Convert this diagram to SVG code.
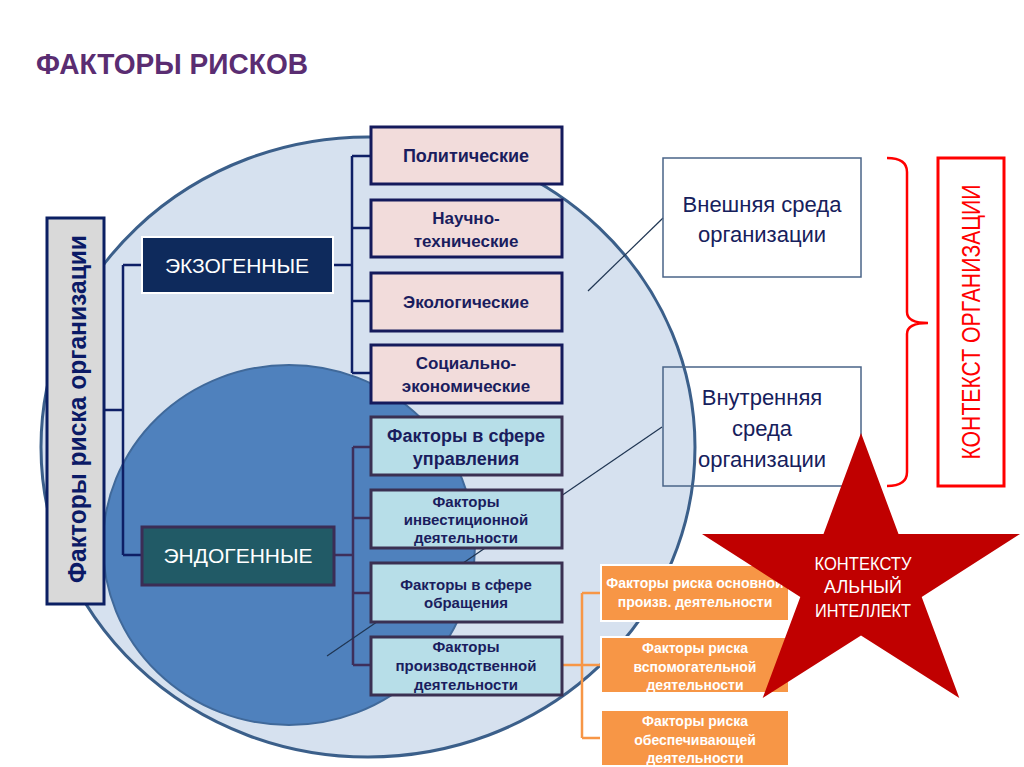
<svg xmlns="http://www.w3.org/2000/svg" width="1024" height="767" viewBox="0 0 1024 767">
<style>
text{font-family:"Liberation Sans",Arial,sans-serif}
.pink{fill:#f2dcdb;stroke:#141a5c;stroke-width:3}
.lb{fill:#b7dee8;stroke:#3a3052;stroke-width:3}
.or{fill:#f79646;stroke:#ffffff;stroke-width:2}
.wb{fill:none;stroke:#4a6488;stroke-width:1.5}
.tn{fill:#1a1d5e;font-weight:bold;text-anchor:middle}
.tw{fill:#ffffff;font-weight:bold;text-anchor:middle;font-size:14px}
.ten{fill:#16205c;text-anchor:middle;font-size:22px}
.cn{fill:none;stroke:#0e1f66;stroke-width:2.5}
.ce{fill:none;stroke:#3d2f5b;stroke-width:2.5}
.co{fill:none;stroke:#f79646;stroke-width:2.5}
.thin{stroke:#1f3552;stroke-width:1.2}
.st{fill:#ffffff;text-anchor:middle;font-size:18px}
</style>
<rect width="1024" height="767" fill="#ffffff"/>
<text x="36" y="74" font-size="29" font-weight="bold" fill="#5a2d72" textLength="272" lengthAdjust="spacingAndGlyphs">ФАКТОРЫ РИСКОВ</text>

<g id="circles">
<ellipse cx="368" cy="447" rx="327" ry="310" fill="#d6e1ef" stroke="#3b5f8a" stroke-width="3"/>
<ellipse cx="289" cy="545" rx="186" ry="180" fill="#4f81bd" stroke="#40699a" stroke-width="2"/>
</g>

<g id="connectors">
<path class="cn" d="M104 410 H123 M123 265 V555 M123 265 H142 M123 555 H142"/>
<path class="cn" d="M333 265 H352 M352 156 V373 M352 156 H371 M352 228 H371 M352 301 H371 M352 373 H371"/>
<path class="ce" d="M334 555 H353 M353 447 V665 M353 447 H371 M353 518 H371 M353 593 H371 M353 665 H371"/>
<path class="co" d="M562 665 H602 M582 593 V738 M582 593 H602 M582 738 H602"/>
<line class="thin" x1="588" y1="291" x2="663" y2="218"/>
<line class="thin" x1="327" y1="656" x2="662" y2="427"/>
</g>

<g id="root">
<rect x="47" y="218" width="57" height="386" fill="#d9d9d9" stroke="#0b1f63" stroke-width="3"/>
<text transform="translate(86 409) rotate(-90)" font-size="25" font-weight="bold" fill="#0b1a66" text-anchor="middle" textLength="348" lengthAdjust="spacingAndGlyphs">Факторы риска организации</text>
</g>

<g id="exo">
<rect x="142" y="237" width="191" height="56" fill="#0e2a5c" stroke="#ffffff" stroke-width="2"/>
<text x="237" y="273" font-size="21" fill="#ffffff" text-anchor="middle">ЭКЗОГЕННЫЕ</text>
</g>
<g id="endo">
<rect x="142" y="527" width="192" height="58" fill="#215a66" stroke="#3b2d55" stroke-width="3"/>
<text x="238" y="563" font-size="21" fill="#ffffff" text-anchor="middle">ЭНДОГЕННЫЕ</text>
</g>

<g id="pol"><rect class="pink" x="371" y="127" width="191" height="57"/><text class="tn" x="466" y="162" font-size="18">Политические</text></g>
<g id="nauch"><rect class="pink" x="371" y="200" width="191" height="57"/><text class="tn" x="466" y="224" font-size="17">Научно-</text><text class="tn" x="466" y="247" font-size="17">технические</text></g>
<g id="ekol"><rect class="pink" x="371" y="273" width="191" height="58"/><text class="tn" x="466" y="308" font-size="17">Экологические</text></g>
<g id="soc"><rect class="pink" x="371" y="345" width="191" height="58"/><text class="tn" x="466" y="369" font-size="17">Социально-</text><text class="tn" x="466" y="392" font-size="17">экономические</text></g>

<g id="upr"><rect class="lb" x="371" y="417" width="191" height="58"/><text class="tn" x="466" y="442" font-size="18">Факторы в сфере</text><text class="tn" x="466" y="465" font-size="18">управления</text></g>
<g id="invest"><rect class="lb" x="371" y="490" width="191" height="58"/><text class="tn" x="466" y="507" font-size="15">Факторы</text><text class="tn" x="466" y="525" font-size="15">инвестиционной</text><text class="tn" x="466" y="543" font-size="15">деятельности</text></g>
<g id="obr"><rect class="lb" x="371" y="563" width="191" height="59"/><text class="tn" x="466" y="590" font-size="15">Факторы в сфере</text><text class="tn" x="466" y="608" font-size="15">обращения</text></g>
<g id="proizv"><rect class="lb" x="371" y="637" width="191" height="58"/><text class="tn" x="466" y="652" font-size="15">Факторы</text><text class="tn" x="466" y="671" font-size="15">производственной</text><text class="tn" x="466" y="690" font-size="15">деятельности</text></g>

<g id="osn"><rect class="or" x="601" y="565" width="188" height="56"/><text class="tw" x="695" y="588">Факторы риска основной</text><text class="tw" x="695" y="607">произв. деятельности</text></g>
<g id="vspom"><rect class="or" x="601" y="637" width="188" height="56"/><text class="tw" x="695" y="653">Факторы риска</text><text class="tw" x="695" y="672">вспомогательной</text><text class="tw" x="695" y="690">деятельности</text></g>
<g id="obesp"><rect class="or" x="601" y="710" width="188" height="56"/><text class="tw" x="695" y="726">Факторы риска</text><text class="tw" x="695" y="745">обеспечивающей</text><text class="tw" x="695" y="763">деятельности</text></g>

<g id="vnesh"><rect class="wb" x="663" y="158" width="198" height="119" fill="#ffffff"/><text class="ten" x="762" y="212">Внешняя среда</text><text class="ten" x="762" y="242">организации</text></g>
<g id="vnutr"><rect class="wb" x="663" y="367" width="198" height="119"/><text class="ten" x="762" y="405">Внутренняя</text><text class="ten" x="762" y="436">среда</text><text class="ten" x="762" y="467">организации</text></g>

<g id="context">
<path d="M887 158 Q907 158 907 172 V312 Q907 323 928 323 Q907 323 907 334 V472 Q907 486 887 486" fill="none" stroke="#ff0000" stroke-width="2.5"/>
<rect x="938" y="158" width="66" height="328" fill="none" stroke="#ff0000" stroke-width="3"/>
<text transform="translate(980 322) rotate(-90)" font-size="26" fill="#ff0000" text-anchor="middle" textLength="275" lengthAdjust="spacingAndGlyphs">КОНТЕКСТ ОРГАНИЗАЦИИ</text>
</g>

<g id="star">
<polygon points="861,433 898.5,534 1020,534 921.7,597 959.3,698 861,635.5 762.7,698 800.3,597 702,534 823.5,534" fill="#c00000"/>
<text class="st" x="863" y="570" textLength="97" lengthAdjust="spacingAndGlyphs">КОНТЕКСТУ</text>
<text class="st" x="863" y="593">АЛЬНЫЙ</text>
<text class="st" x="863" y="617" textLength="96" lengthAdjust="spacingAndGlyphs">ИНТЕЛЛЕКТ</text>
</g>
</svg>
